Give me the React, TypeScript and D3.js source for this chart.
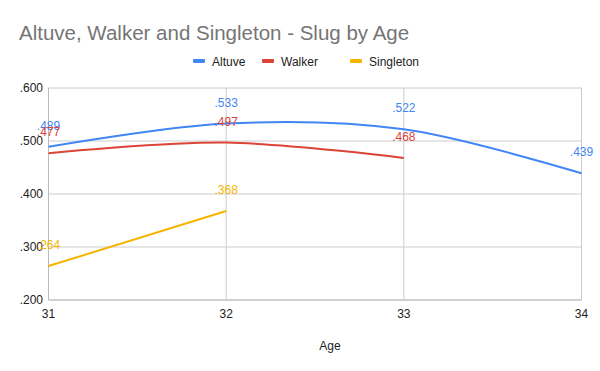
import React from "react";
import * as d3 from "d3";

const ages = [31, 32, 33, 34];
const altuve = [0.489, 0.533, 0.522, 0.439];
const walker = [0.477, 0.497, 0.468];
const singleton = [0.264, 0.368];
const yTicks = [0.2, 0.3, 0.4, 0.5, 0.6];
const seriesNames = ["Altuve", "Walker", "Singleton"];
const seriesColors = ["#4285F4", "#DB4437", "#F4B400"];

const W = 600, H = 371;
const fmt = (v: number) => d3.format(".3f")(v).replace(/^0/, "");

export default function App() {
  const x = d3.scaleLinear().domain([31, 34]).range([48.5, 581.5]);
  const y = d3.scaleLinear().domain([0.2, 0.6]).range([300, 88]);
  const series = [altuve, walker, singleton];
  const line = d3
    .line<number>()
    .x((_, i) => x(ages[i]))
    .y((d) => y(d))
    .curve(d3.curveCatmullRom.alpha(0.5));
  const font = "Liberation Sans, Arial, sans-serif";
  const legendX = [193, 262, 350];
  return (
    <svg width={W} height={H} style={{ position: "absolute", left: 0, top: 0, background: "#fff" }} fontFamily={font}>
      <rect width={W} height={H} fill="#fff" />
      <text x={19} y={40} fontSize={20.5} fill="#757575">
        Altuve, Walker and Singleton - Slug by Age
      </text>
      {seriesNames.map((n, i) => (
        <g key={n}>
          <rect x={legendX[i]} y={59} width={12} height={4} rx={1} fill={seriesColors[i]} />
          <text x={legendX[i] + 19} y={65.5} fontSize={12} fill="#222">
            {n}
          </text>
        </g>
      ))}
      {yTicks.map((t) => (
        <g key={t}>
          <line x1={x(31)} x2={x(34)} y1={y(t)} y2={y(t)} stroke="#ccc" strokeWidth={1} />
          <text x={43} y={y(t) + 4} fontSize={12} textAnchor="end" fill="#222">
            {fmt(t)}
          </text>
        </g>
      ))}
      {ages.map((a) => (
        <g key={a}>
          <line x1={x(a)} x2={x(a)} y1={y(0.6)} y2={y(0.2)} stroke="#ccc" strokeWidth={1} />
          <text x={x(a)} y={318} fontSize={12} textAnchor="middle" fill="#222">
            {a}
          </text>
        </g>
      ))}
      <line x1={x(31)} x2={x(34)} y1={y(0.2)} y2={y(0.2)} stroke="#bbb" />
      <line x1={x(31)} x2={x(31)} y1={y(0.6)} y2={y(0.2)} stroke="#bbb" />
      <text x={330} y={350} fontSize={12} textAnchor="middle" fill="#222">
        Age
      </text>
      {series.map((s, si) => (
        <path key={si} d={line(s) || ""} fill="none" stroke={seriesColors[si]} strokeWidth={2} />
      ))}
      {series.map((s, si) =>
        s.map((v, i) => (
          <text key={si + "-" + i} x={x(ages[i])} y={y(v) - 17} fontSize={12} textAnchor="middle" fill={seriesColors[si]}>
            {fmt(v)}
          </text>
        ))
      )}
    </svg>
  );
}
